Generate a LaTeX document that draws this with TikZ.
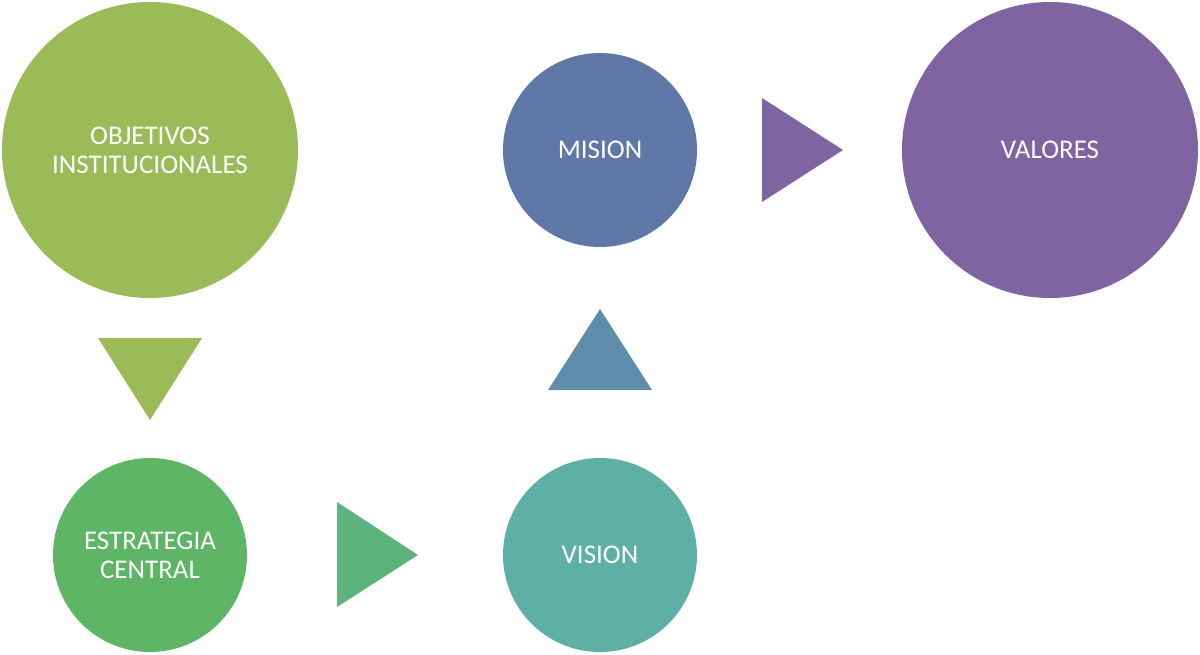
\documentclass[tikz,border=0pt]{standalone}
\usepackage{fontspec}
\setmainfont{Carlito}
\definecolor{cObj}{HTML}{9BBB59}
\definecolor{cEst}{HTML}{5DB565}
\definecolor{cTriG}{HTML}{5CB47C}
\definecolor{cVis}{HTML}{5EAFA6}
\definecolor{cTriB}{HTML}{5E8CAB}
\definecolor{cMis}{HTML}{5F78A8}
\definecolor{cVal}{HTML}{8064A2}
\tikzset{
  bubble/.style={circle, inner sep=0pt, text=white, align=center,
    font=\fontsize{27}{29}\selectfont},
  big/.style={bubble, minimum size=296pt},
  small/.style={bubble, minimum size=194pt},
}
\begin{document}
\begin{tikzpicture}[x=1pt,y=-1pt]
\useasboundingbox (0,0) rectangle (1200,655);
\node[big, fill=cObj] (obj) at (150,150) {OBJETIVOS\\INSTITUCIONALES};
\node[small, fill=cMis] (mis) at (600,150) {MISION};
\node[big, fill=cVal] (val) at (1050,150) {VALORES};
\node[small, fill=cEst] (est) at (150,555) {ESTRATEGIA\\CENTRAL};
\node[small, fill=cVis] (vis) at (600,555) {VISION};
% arrow triangles
\fill[cObj] (98,338) -- (202,338) -- (150,420) -- cycle;
\fill[cTriG] (337,502) -- (337,607) -- (418,555) -- cycle;
\fill[cTriB] (548,390) -- (652,390) -- (600,309) -- cycle;
\fill[cVal] (762,98) -- (762,202) -- (843,150) -- cycle;
\end{tikzpicture}
\end{document}
